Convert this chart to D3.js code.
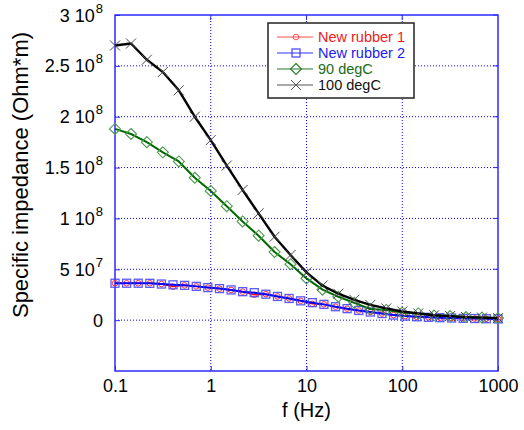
<!DOCTYPE html>
<html>
<head>
<meta charset="utf-8">
<script src="https://cdn.jsdelivr.net/npm/d3@7"></script>
<style>
  html, body { margin: 0; padding: 0; background: #fff; }
  svg { display: block; font-family: "Liberation Sans", Arial, sans-serif; }
</style>
</head>
<body>
<svg id="chart" width="524" height="430"></svg>
<script>
// ---- Data (impedance values in units of 1e8 Ohm*m) ----
const freqA = [0.1, 0.147, 0.215, 0.316, 0.464, 0.681, 1, 1.47, 2.15, 3.16, 4.64, 6.81,
  10, 14.7, 21.5, 31.6, 46.4, 68.1, 100, 147, 215, 316, 464, 681, 1000];
const freqB = [0.1, 0.1322, 0.1748, 0.231, 0.3054, 0.4037, 0.5337, 0.7055, 0.9326, 1.233,
  1.630, 2.154, 2.848, 3.765, 4.977, 6.579, 8.697, 11.50, 15.20, 20.09, 26.56, 35.11,
  46.42, 61.36, 81.11, 107.2, 141.7, 187.4, 247.7, 327.5, 432.9, 572.2, 756.5, 1000];

const newRubber1 = [0.363, 0.363, 0.363, 0.362, 0.355, 0.330, 0.342, 0.332, 0.320, 0.310,
  0.297, 0.280, 0.250, 0.255, 0.233, 0.213, 0.190, 0.160, 0.155, 0.132, 0.113, 0.095,
  0.080, 0.065, 0.050, 0.040, 0.033, 0.028, 0.024, 0.021, 0.018, 0.016, 0.014, 0.012];
const newRubber2 = [0.363, 0.363, 0.363, 0.362, 0.355, 0.347, 0.342, 0.332, 0.320, 0.310,
  0.297, 0.280, 0.270, 0.255, 0.233, 0.213, 0.190, 0.172, 0.155, 0.132, 0.113, 0.095,
  0.080, 0.065, 0.050, 0.040, 0.033, 0.028, 0.024, 0.021, 0.018, 0.016, 0.014, 0.012];
const deg90 = [1.88, 1.83, 1.75, 1.65, 1.56, 1.40, 1.27, 1.12, 0.97, 0.83, 0.67, 0.55,
  0.41, 0.30, 0.23, 0.17, 0.11, 0.10, 0.075, 0.066, 0.045, 0.040, 0.030, 0.025, 0.020];
const deg100 = [2.70, 2.72, 2.56, 2.44, 2.26, 2.00, 1.77, 1.52, 1.28, 1.05, 0.82, 0.64,
  0.47, 0.34, 0.26, 0.20, 0.15, 0.115, 0.085, 0.066, 0.048, 0.040, 0.030, 0.025, 0.020];

const seriesNames = ["New rubber 1", "New rubber 2", "90 degC", "100 degC"];
const xTicks = [0.1, 1, 10, 100, 1000];
const xTickLabels = ["0.1", "1", "10", "100", "1000"];
const yTicks = [0, 0.5, 1, 1.5, 2, 2.5, 3];
const yTickMant = ["0", "5 10", "1 10", "1.5 10", "2 10", "2.5 10", "3 10"];
const yTickExp = ["", "7", "8", "8", "8", "8", "8"];

// ---- Layout ----
const svg = d3.select("#chart");
const L = 115, R = 498, T = 15, B = 371;
const x = d3.scaleLog().domain([0.1, 1000]).range([L, R]);
const y = d3.scaleLinear().domain([-0.5, 3]).range([B, T]);
const axisBlue = "#2b2bff";

// grid
const grid = svg.append("g");
grid.selectAll("line.gx").data(xTicks.slice(1, -1)).enter().append("line")
  .attr("x1", d => x(d)).attr("x2", d => x(d)).attr("y1", T).attr("y2", B)
  .attr("stroke", "#0000ff").attr("stroke-width", 1).attr("stroke-dasharray", "1,2");
grid.selectAll("line.gy").data(yTicks.slice(0, -1)).enter().append("line")
  .attr("x1", L).attr("x2", R).attr("y1", d => y(d)).attr("y2", d => y(d))
  .attr("stroke", "#0000ff").attr("stroke-width", 1).attr("stroke-dasharray", "1,2");

// axes (D3 axes, ticks inward)
const xAxis = svg.append("g").attr("transform", `translate(0,${B})`)
  .call(d3.axisBottom(x).tickValues(xTicks).tickSize(-5).tickPadding(12)
    .tickFormat((d, i) => xTickLabels[i]));
const yAxis = svg.append("g").attr("transform", `translate(${L},0)`)
  .call(d3.axisLeft(y).tickValues(yTicks).tickSize(-5).tickPadding(12)
    .tickFormat((d, i) => yTickMant[i]));
[xAxis, yAxis].forEach(g => {
  g.select(".domain").remove();
  g.selectAll(".tick line").attr("stroke", axisBlue);
  g.selectAll(".tick text").attr("fill", "#000").attr("font-size", 18)
    .attr("font-family", "Liberation Sans, Arial, sans-serif");
});
xAxis.selectAll(".tick text").attr("dy", null).attr("y", 21);
yAxis.selectAll(".tick text").attr("dy", null).attr("y", 6).attr("x", -12)
  .each(function(d, i) {
    if (yTickExp[i]) {
      d3.select(this).append("tspan").attr("font-size", 13).attr("dy", -9).attr("dx", 1)
        .text(yTickExp[i]);
    }
  });
// right/top inner ticks
svg.append("g").selectAll("line").data(xTicks.slice(1, -1)).enter().append("line")
  .attr("x1", d => x(d)).attr("x2", d => x(d)).attr("y1", T).attr("y2", T + 5)
  .attr("stroke", axisBlue);
svg.append("g").selectAll("line").data(yTicks).enter().append("line")
  .attr("x1", R - 5).attr("x2", R).attr("y1", d => y(d)).attr("y2", d => y(d))
  .attr("stroke", axisBlue);

// box
svg.append("rect").attr("x", L).attr("y", T).attr("width", R - L).attr("height", B - T)
  .attr("fill", "none").attr("stroke", axisBlue).attr("stroke-width", 1.5);

// ---- Series ----
const series = [
  { name: seriesNames[0], f: freqB, v: newRubber1, line: "#ff0000", mk: "#ff3030", shape: "circle", lw: 1.5 },
  { name: seriesNames[1], f: freqB, v: newRubber2, line: "#0000ff", mk: "#3c3cff", shape: "square", lw: 2 },
  { name: seriesNames[2], f: freqA, v: deg90, line: "#006a00", mk: "#4f9a4f", shape: "diamond", lw: 2 },
  { name: seriesNames[3], f: freqA, v: deg100, line: "#000000", mk: "#4a4a4a", shape: "x", lw: 2.4 }
];

function drawMarker(g, shape, cx, cy, color) {
  if (shape === "circle") {
    g.append("circle").attr("cx", cx).attr("cy", cy).attr("r", 2.8)
      .attr("fill", "none").attr("stroke", color).attr("stroke-width", 1);
  } else if (shape === "square") {
    g.append("rect").attr("x", cx - 4).attr("y", cy - 4).attr("width", 8).attr("height", 8)
      .attr("fill", "none").attr("stroke", color).attr("stroke-width", 1.3).attr("stroke-opacity", 0.85);
  } else if (shape === "diamond") {
    const s = 5.5;
    g.append("path").attr("d", `M${cx},${cy - s}L${cx + s},${cy}L${cx},${cy + s}L${cx - s},${cy}Z`)
      .attr("fill", "none").attr("stroke", color).attr("stroke-width", 1.1);
  } else {
    const s = 5;
    g.append("path").attr("d", `M${cx - s},${cy - s}L${cx + s},${cy + s}M${cx - s},${cy + s}L${cx + s},${cy - s}`)
      .attr("fill", "none").attr("stroke", color).attr("stroke-width", 1);
  }
}

const plot = svg.append("g");
series.forEach(s => {
  const pts = s.f.map((f, i) => [x(f), y(s.v[i])]);
  plot.append("path").attr("d", d3.line()(pts)).attr("fill", "none")
    .attr("stroke", s.line).attr("stroke-width", s.lw).attr("stroke-linejoin", "round");
  const mg = plot.append("g");
  pts.forEach(p => drawMarker(mg, s.shape, p[0], p[1], s.mk));
});

// ---- Legend ----
const lg = svg.append("g");
lg.append("rect").attr("x", 268).attr("y", 23).attr("width", 146).attr("height", 75)
  .attr("fill", "#fff").attr("stroke", "#222").attr("stroke-width", 1.5);
const textColors = ["#ee2222", "#2222ee", "#1a6b1a", "#111111"];
const legLine = ["#ff5050", "#3030ff", "#2a7a2a", "#555555"];
series.forEach((s, i) => {
  const yy = 37 + i * 16;
  lg.append("line").attr("x1", 277).attr("x2", 313).attr("y1", yy).attr("y2", yy)
    .attr("stroke", legLine[i]).attr("stroke-width", 1.2);
  drawMarker(lg, s.shape, 296, yy, legLine[i]);
  lg.append("text").attr("x", 318).attr("y", yy + 5).attr("font-size", 14.5)
    .attr("fill", textColors[i]).text(s.name);
});

// ---- Titles ----
svg.append("text").attr("x", (L + R) / 2).attr("y", 417).attr("text-anchor", "middle")
  .attr("font-size", 20).attr("fill", "#000").text("f (Hz)");
svg.append("text").attr("transform", "translate(28,175) rotate(-90)")
  .attr("text-anchor", "middle").attr("font-size", 22).attr("fill", "#000")
  .text("Specific impedance (Ohm*m)");
</script>
</body>
</html>
